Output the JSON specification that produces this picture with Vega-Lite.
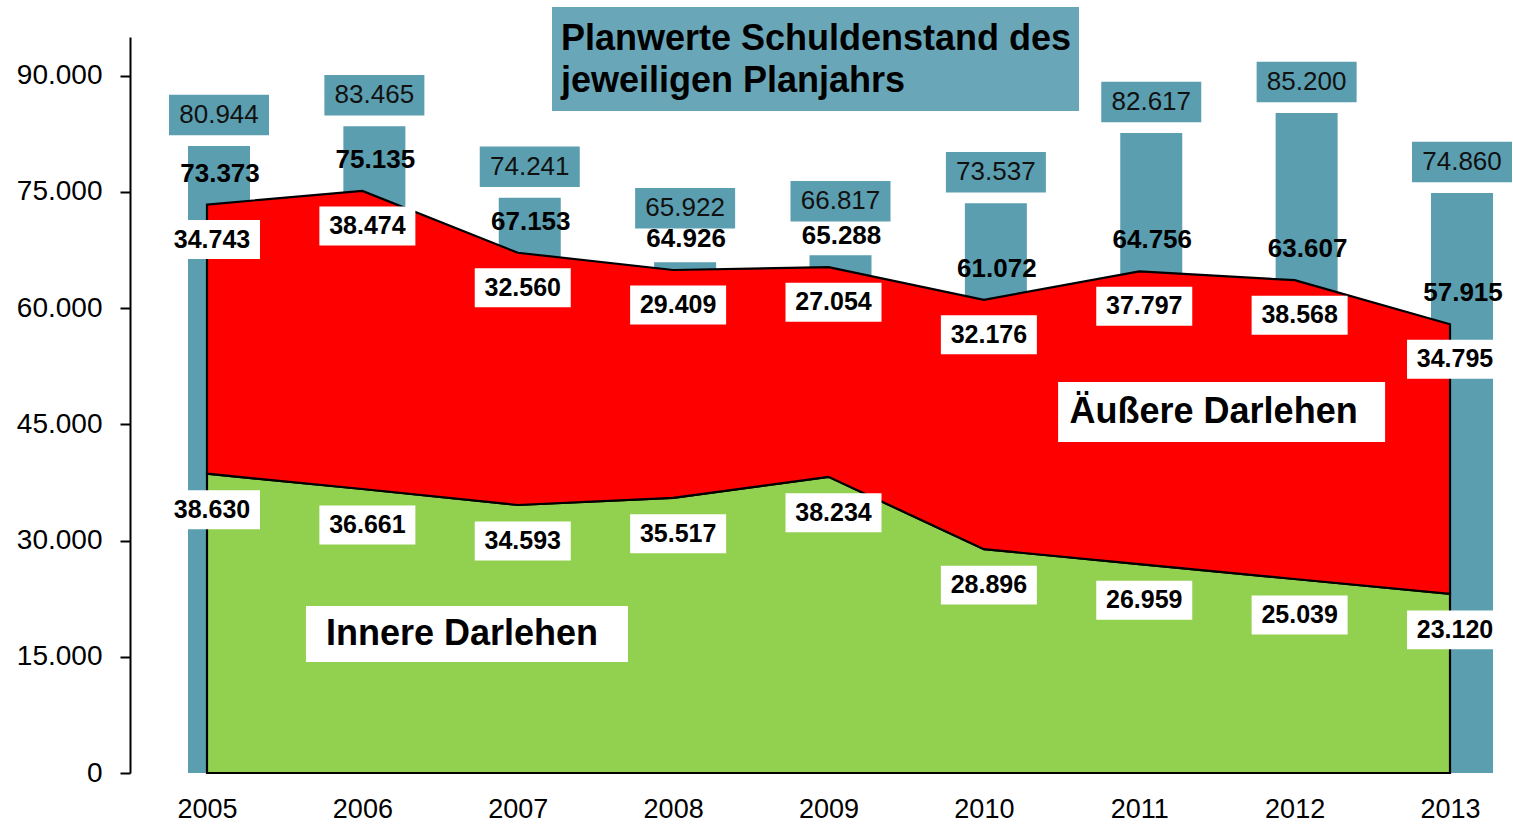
{
  "$schema": "https://vega.github.io/schema/vega-lite/v6.json",
  "autosize": {"type": "none"},
  "padding": {"left": 130, "top": 37, "right": 18, "bottom": 51},
  "width": 1365,
  "height": 736,
  "background": "white",
  "config": {
    "view": {"stroke": null},
    "font": "Liberation Sans",
    "locale": {"number": {"decimal": ",", "thousands": ".", "grouping": [3], "currency": ["", " €"]}}
  },
  "data": {"values": [
    {"year": 2005, "plan": 80944, "inner": 38630, "outer": 34743, "total": 73373},
    {"year": 2006, "plan": 83465, "inner": 36661, "outer": 38474, "total": 75135},
    {"year": 2007, "plan": 74241, "inner": 34593, "outer": 32560, "total": 67153},
    {"year": 2008, "plan": 65922, "inner": 35517, "outer": 29409, "total": 64926},
    {"year": 2009, "plan": 66817, "inner": 38234, "outer": 27054, "total": 65288},
    {"year": 2010, "plan": 73537, "inner": 28896, "outer": 32176, "total": 61072},
    {"year": 2011, "plan": 82617, "inner": 26959, "outer": 37797, "total": 64756},
    {"year": 2012, "plan": 85200, "inner": 25039, "outer": 38568, "total": 63607},
    {"year": 2013, "plan": 74860, "inner": 23120, "outer": 34795, "total": 57915}
  ]},
  "layer": [
    {
      "encoding": {
        "x": {"field": "year", "type": "quantitative",
          "scale": {"domain": [2004.5044, 2013.2896], "nice": false, "zero": false, "padding": 0},
          "axis": {"values": [2005, 2006, 2007, 2008, 2009, 2010, 2011, 2012, 2013], "format": "d",
            "domain": false, "ticks": false, "grid": false, "title": null,
            "labelFontSize": 27, "labelColor": "#000000", "labelFont": "Liberation Sans", "labelPadding": 23}}
      },
      "layer": [
        {
          "mark": {"type": "bar", "orient": "vertical", "width": 62, "xOffset": 12, "color": "#5a9eb0"},
          "encoding": {
            "y": {"field": "plan", "type": "quantitative", "stack": null,
              "scale": {"domain": [0, 95000], "nice": false},
              "axis": {"values": [0, 15000, 30000, 45000, 60000, 75000, 90000], "format": ",d",
                "grid": false, "title": null, "domainColor": "#000000", "domainWidth": 2,
                "tickColor": "#000000", "tickWidth": 2, "tickSize": 10,
                "labelFontSize": 28, "labelColor": "#000000", "labelFont": "Liberation Sans", "labelPadding": 18}}
          }
        },
        {
          "transform": [{"fold": ["inner", "outer"], "as": ["series", "value"]}],
          "mark": {"type": "area", "stroke": "#000000", "strokeWidth": 2.2, "opacity": 1, "interpolate": "linear"},
          "encoding": {
            "y": {"field": "value", "type": "quantitative", "stack": "zero"},
            "order": {"field": "series", "sort": "ascending"},
            "color": {"field": "series", "type": "nominal",
              "scale": {"domain": ["inner", "outer"], "range": ["#92d050", "#ff0000"]}, "legend": null}
          }
        },
        {
          "transform": [{"filter": "datum.year < 2008 || datum.year > 2009"}],
          "encoding": {"y": {"field": "plan", "type": "quantitative"}},
          "layer": [
            {"mark": {"type": "point", "shape": "M-1,-0.405L1,-0.405L1,0.405L-1,0.405Z", "size": 10000,
              "filled": true, "fill": "#5a9eb0", "opacity": 1, "strokeWidth": 0, "xOffset": 12, "yOffset": -31}},
            {"mark": {"type": "text", "fontSize": 26, "font": "Liberation Sans", "color": "#111111",
              "baseline": "middle", "align": "center", "xOffset": 12, "yOffset": -31},
              "encoding": {"text": {"field": "plan", "type": "quantitative", "format": ",d"}}}
          ]
        },
        {
          "transform": [{"filter": "datum.year >= 2008 && datum.year <= 2009"}],
          "encoding": {"y": {"field": "plan", "type": "quantitative"}},
          "layer": [
            {"mark": {"type": "point", "shape": "M-1,-0.405L1,-0.405L1,0.405L-1,0.405Z", "size": 10000,
              "filled": true, "fill": "#5a9eb0", "opacity": 1, "strokeWidth": 0, "xOffset": 12, "yOffset": -54}},
            {"mark": {"type": "text", "fontSize": 26, "font": "Liberation Sans", "color": "#111111",
              "baseline": "middle", "align": "center", "xOffset": 12, "yOffset": -54},
              "encoding": {"text": {"field": "plan", "type": "quantitative", "format": ",d"}}}
          ]
        },
        {
          "mark": {"type": "text", "fontSize": 26, "fontWeight": "bold", "font": "Liberation Sans", "color": "#000000",
            "baseline": "middle", "align": "center", "xOffset": 13, "yOffset": -31},
          "encoding": {
            "y": {"field": "total", "type": "quantitative"},
            "text": {"field": "total", "type": "quantitative", "format": ",d"}
          }
        },
        {
          "encoding": {"y": {"field": "total", "type": "quantitative"}},
          "layer": [
            {"mark": {"type": "point", "shape": "M-1,-0.406L1,-0.406L1,0.406L-1,0.406Z", "size": 9216,
              "filled": true, "fill": "#ffffff", "opacity": 1, "strokeWidth": 0, "xOffset": 5, "yOffset": 35}},
            {"mark": {"type": "text", "fontSize": 25, "fontWeight": "bold", "font": "Liberation Sans", "color": "#000000",
              "baseline": "middle", "align": "center", "xOffset": 5, "yOffset": 35},
              "encoding": {"text": {"field": "outer", "type": "quantitative", "format": ",d"}}}
          ]
        },
        {
          "encoding": {"y": {"field": "inner", "type": "quantitative"}},
          "layer": [
            {"mark": {"type": "point", "shape": "M-1,-0.406L1,-0.406L1,0.406L-1,0.406Z", "size": 9216,
              "filled": true, "fill": "#ffffff", "opacity": 1, "strokeWidth": 0, "xOffset": 5, "yOffset": 36}},
            {"mark": {"type": "text", "fontSize": 25, "fontWeight": "bold", "font": "Liberation Sans", "color": "#000000",
              "baseline": "middle", "align": "center", "xOffset": 5, "yOffset": 36},
              "encoding": {"text": {"field": "inner", "type": "quantitative", "format": ",d"}}}
          ]
        }
      ]
    },
    {
      "data": {"values": [{"label": "Äußere Darlehen"}]},
      "encoding": {"x": {"datum": 2011.53, "type": "quantitative", "title": null}, "y": {"datum": 46597, "type": "quantitative", "title": null}},
      "layer": [
        {"mark": {"type": "point", "shape": "M-1,-0.1835L1,-0.1835L1,0.1835L-1,0.1835Z", "size": 106929,
          "filled": true, "fill": "#ffffff", "opacity": 1, "strokeWidth": 0}},
        {"mark": {"type": "text", "fontSize": 36, "fontWeight": "bold", "font": "Liberation Sans", "color": "#000000",
          "baseline": "middle", "align": "center", "xOffset": -8},
          "encoding": {"text": {"field": "label", "type": "nominal"}}}
      ]
    },
    {
      "data": {"values": [{"label": "Innere Darlehen"}]},
      "encoding": {"x": {"datum": 2006.673, "type": "quantitative", "title": null}, "y": {"datum": 17942, "type": "quantitative", "title": null}},
      "layer": [
        {"mark": {"type": "point", "shape": "M-1,-0.174L1,-0.174L1,0.174L-1,0.174Z", "size": 103684,
          "filled": true, "fill": "#ffffff", "opacity": 1, "strokeWidth": 0}},
        {"mark": {"type": "text", "fontSize": 36, "fontWeight": "bold", "font": "Liberation Sans", "color": "#000000",
          "baseline": "middle", "align": "center", "xOffset": -5},
          "encoding": {"text": {"field": "label", "type": "nominal"}}}
      ]
    },
    {
      "data": {"values": [{"title": "Planwerte Schuldenstand des jeweiligen Planjahrs"}]},
      "mark": {"type": "rect", "fill": "#69a7b8", "opacity": 1},
      "encoding": {
        "x": {"datum": 2007.2204, "type": "quantitative", "title": null}, "x2": {"datum": 2010.6123},
        "y": {"datum": 98872, "type": "quantitative", "title": null}, "y2": {"datum": 85448}
      }
    },
    {
      "data": {"values": [{"title": "Planwerte Schuldenstand des jeweiligen Planjahrs"}]},
      "mark": {"type": "text", "text": ["Planwerte Schuldenstand des", "jeweiligen Planjahrs"],
        "fontSize": 36, "fontWeight": "bold", "font": "Liberation Sans", "color": "#000000",
        "align": "left", "baseline": "alphabetic", "lineHeight": 42, "xOffset": 9},
      "encoding": {
        "x": {"datum": 2007.2204, "type": "quantitative", "title": null},
        "y": {"datum": 93322, "type": "quantitative", "title": null}
      }
    }
  ]
}
